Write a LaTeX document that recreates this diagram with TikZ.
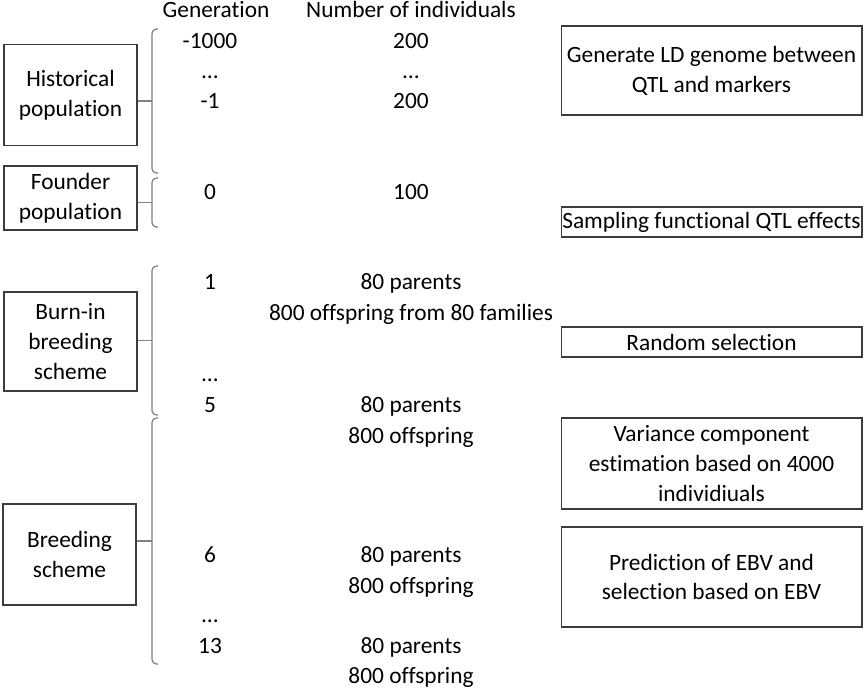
\documentclass[tikz,border=0pt]{standalone}
\usepackage{fontspec}
\setmainfont{Carlito}[Ligatures=NoCommon]
\usetikzlibrary{positioning}
\definecolor{boxline}{RGB}{60,60,60}
\definecolor{braceline}{RGB}{128,128,128}
\tikzset{
  stage/.style={draw=boxline,line width=0.6pt,align=center,inner sep=0pt,minimum width=2.66cm},
  task/.style={draw=boxline,line width=0.6pt,align=center,inner sep=0pt,minimum width=6.02cm},
  lbl/.style={anchor=base,inner sep=0pt},
  brk/.style={draw=braceline,line width=0.7pt,rounded corners=2.5pt},
}
% square bracket between the stage box and the generation column
\newcommand{\genbrace}[3]{%
  \draw[brk] (158,#2) -- (152,#2) -- (152,#3) -- (158,#3);
  \coordinate (#1) at (152,{(#2+#3)/2});}

\begin{document}
\begin{tikzpicture}[x=0.02cm,y=-0.02cm,font=\fontsize{13.3}{17}\selectfont]
  \useasboundingbox (0,0) rectangle (865,691);
  % stages
  \node[stage,minimum height=2.02cm] (hist) at (70.5,95) {Historical\\population};
  \node[stage,minimum height=1.28cm] (found) at (70.5,198) {Founder\\population};
  \node[stage,minimum height=1.98cm] (burn) at (70.5,341.5) {Burn-in\\breeding\\scheme};
  \node[stage,minimum height=2.02cm] (breed) at (69.5,554.5) {Breeding\\scheme};
  % brackets
  \genbrace{bhist}{29}{173}
  \genbrace{bfound}{178}{227}
  \genbrace{bburn}{266}{415}
  \genbrace{bbreed}{418}{664}
  \draw[brk] (hist.east |- bhist) -- (bhist);
  \draw[brk] (found.east |- bfound) -- (bfound);
  \draw[brk] (burn.east |- bburn) -- (bburn);
  \draw[brk] (breed.east |- bbreed) -- (bbreed);
  % column heads
  \node[lbl] (hgen) at (216,17) {Generation};
  \node[lbl] (hnum) at (411,17) {Number of individuals};
  % historical and founder
  \node[lbl] (g1000) at (210,48) {-1000};
  \node[lbl] (gdots) at (210,78) {…};
  \node[lbl] (gm1) at (210,108) {-1};
  \node[lbl] (g0) at (210,199) {0};
  \node[lbl] (n1000) at (411,48) {200};
  \node[lbl] (ndots) at (411,78) {…};
  \node[lbl] (nm1) at (411,108) {200};
  \node[lbl] (n0) at (411,199) {100};
  % burn-in
  \node[lbl] (g1) at (210,289) {1};
  \node[lbl] (par1) at (411,289) {80 parents};
  \node[lbl] (off1) at (411,320) {800 offspring from 80 families};
  \node[lbl] (gbdots) at (210,381) {…};
  \node[lbl] (g5) at (210,412) {5};
  \node[lbl] (par5) at (411,412) {80 parents};
  \node[lbl] (off5) at (411,443) {800 offspring};
  % breeding
  \node[lbl] (g6) at (210,562) {6};
  \node[lbl] (par6) at (411,562) {80 parents};
  \node[lbl] (off6) at (411,593) {800 offspring};
  \node[lbl] (gsdots) at (210,622) {…};
  \node[lbl] (g13) at (210,653) {13};
  \node[lbl] (par13) at (411,653) {80 parents};
  \node[lbl] (off13) at (411,683) {800 offspring};
  % tasks
  \node[task,minimum height=1.78cm] (ldgen) at (711.5,70.5) {Generate LD genome between\\QTL and markers};
  \node[task,minimum height=0.6cm] (qtl) at (711.5,222) {Sampling functional QTL effects};
  \node[task,minimum height=0.6cm] (rand) at (711.5,342) {Random selection};
  \node[task,minimum height=1.82cm] (varc) at (711.5,463.5) {Variance component\\estimation based on 4000\\individiuals};
  \node[task,minimum height=2.0cm] (ebv) at (711.5,577) {Prediction of EBV and\\selection based on EBV};
\end{tikzpicture}
\end{document}
